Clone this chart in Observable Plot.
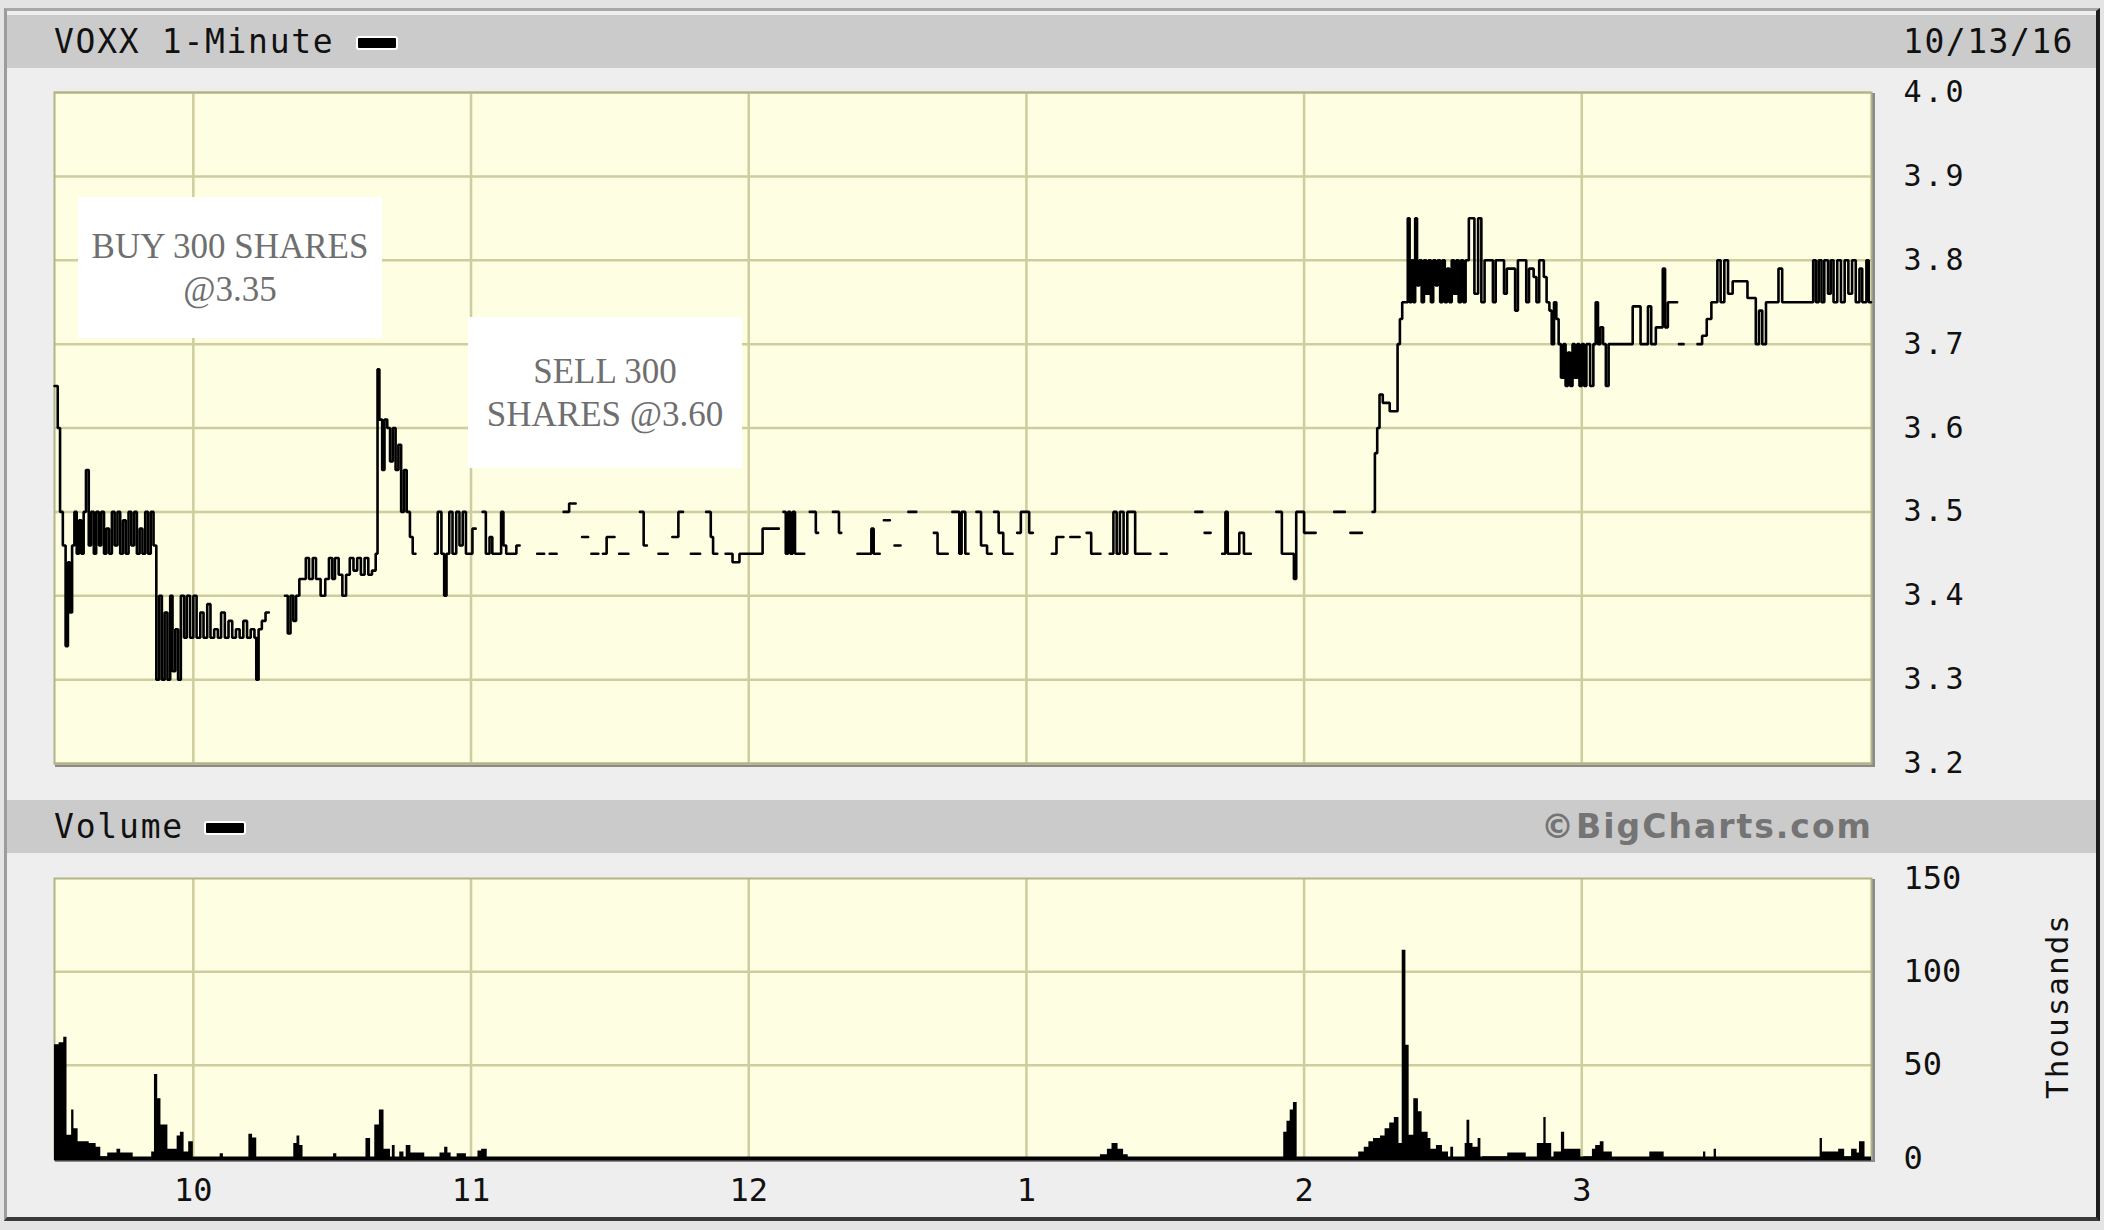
<!DOCTYPE html>
<html><head><meta charset="utf-8">
<script src="https://cdn.jsdelivr.net/npm/d3@7"></script>
<script src="https://cdn.jsdelivr.net/npm/@observablehq/plot@0.6"></script>
<style>
html,body{margin:0;padding:0;background:#e4e4e4;}
#page{position:relative;width:2104px;height:1230px;overflow:hidden;background:#e4e4e4;}
#panel{position:absolute;left:4px;top:8px;width:2089px;height:1206px;background:#eeeeee;border-left:3px solid #9c9c9c;border-top:3px solid #a8a8a8;border-right:4px solid #1e1e1e;border-bottom:4px solid #3a3a3a;}
.band{position:absolute;left:7px;width:2089px;height:53px;background:#cbcbcb;}
.mono{position:absolute;font-family:"DejaVu Sans Mono",monospace;font-size:33px;color:#111;line-height:53px;white-space:nowrap;}
.swatch{position:absolute;width:38px;height:10px;background:#000;border:2px solid #fff;border-radius:3px;}
.note{position:absolute;background:#fff;color:#6f6f6f;font-family:"Liberation Serif","Times New Roman",serif;font-size:35px;line-height:43px;text-align:center;display:flex;align-items:center;justify-content:center;}
.plotwrap{position:absolute;left:0;}
</style></head>
<body>
<div id="page">
  <div id="panel"></div>
  <div class="band" style="top:15px"></div>
  <div class="band" style="top:800px"></div>
  <div class="mono" style="left:54px;top:15px;letter-spacing:1.7px">VOXX 1-Minute</div>
  <div class="swatch" style="left:356px;top:36px"></div>
  <div class="mono" style="right:30px;top:15px;letter-spacing:1.5px">10/13/16</div>
  <div class="mono" style="left:54px;top:800px;letter-spacing:1.8px">Volume</div>
  <div class="swatch" style="left:204px;top:821px"></div>
  <div style="position:absolute;right:231px;top:800px;line-height:53px;font-family:'DejaVu Sans',sans-serif;font-weight:bold;font-size:33px;color:#747474;letter-spacing:2px;">©BigCharts.com</div>
  <div id="price" class="plotwrap" style="top:0"></div>
  <div id="volume" class="plotwrap" style="top:853px"></div>
  <div class="note" style="left:78px;top:197px;width:304px;height:141px">BUY 300 SHARES<br>@3.35</div>
  <div class="note" style="left:468px;top:317px;width:274px;height:151px">SELL 300<br>SHARES @3.60</div>
  <div class="mono" style="left:2057px;top:1006px;transform:translate(-50%,-50%) rotate(-90deg);font-size:31px;line-height:34px;letter-spacing:2px">Thousands</div>
</div>
<script>
// ---- axis / tick data ----
const priceTicks = [3.2, 3.3, 3.4, 3.5, 3.6, 3.7, 3.8, 3.9, 4.0];
const volumeTicks = [0, 50, 100, 150];
const volumeGrid = [50, 100];
const hourTicks = [30, 90, 150, 210, 270, 330];           // minutes after 9:30
const hourLabels = ["10", "11", "12", "1", "2", "3"];

// ---- price series: [minute after 9:30, price] ; null = no trade ----
const morningPrice = [
  [0,3.65],[0.7,3.60],[1.2,3.50],[1.8,3.46],[2.4,3.34],[2.9,3.44],[3.3,3.38],[3.8,3.46],[4.3,3.50],[4.8,3.45],
  [5.3,3.49],[5.8,3.45],[6.3,3.50],[6.8,3.55],[7.4,3.46],[7.9,3.50],[8.5,3.45],[9.0,3.50],[9.6,3.46],[10.1,3.50],
  [10.7,3.45],[11.2,3.48],[11.8,3.45],[12.4,3.50],[13.0,3.46],[13.6,3.50],[14.2,3.45],[14.8,3.49],[15.4,3.45],[16.0,3.50],
  [16.6,3.46],[17.2,3.50],[17.8,3.45],[18.4,3.48],[19.0,3.45],[19.6,3.50],[20.2,3.45],[20.8,3.50],[21.4,3.46],[22.0,3.30],
  [22.6,3.40],[23.2,3.30],[23.8,3.38],[24.4,3.30],[25.0,3.40],[25.5,3.31],[26.1,3.36],[26.7,3.30],[27.3,3.40],[28.0,3.35],
  [28.6,3.40],[29.3,3.35],[30.0,3.40],[30.7,3.35],[31.5,3.38],[32.2,3.35],[33.0,3.39],[33.7,3.35],[34.5,3.36],[35.3,3.35],
  [36.0,3.38],[36.8,3.35],[37.6,3.37],[38.4,3.35],[39.2,3.36],[40.0,3.35],[40.8,3.37],[41.6,3.35],[42.4,3.36],[43.2,3.35],
  [43.6,3.30],[44.1,3.36],[44.8,3.37],[45.6,3.38],[46.3,null],
  [49.8,3.40],[50.4,3.355],[51.0,3.40],[51.6,3.37],[52.2,3.40],[52.9,3.42],[54.3,3.445],[55.0,3.42],[55.8,3.445],[56.5,3.42],
  [57.5,3.40],[58.5,3.42],[59.3,3.445],[60.0,3.42],[60.6,3.445],[61.4,3.425],[62.2,3.40],[63.0,3.425],[63.8,3.445],[64.6,3.43],
  [65.4,3.445],[66.2,3.425],[67.0,3.445],[67.8,3.425],[68.6,3.43],[69.4,3.45],[69.8,3.67],[70.2,3.61],[70.8,3.55],[71.3,3.61],
  [71.9,3.60],[72.5,3.56],[73.1,3.60],[73.7,3.55],[74.3,3.58],[74.9,3.50],[75.5,3.55],[76.1,3.50],[76.8,3.47],[77.4,3.45],[78.0,null],
  [82.2,3.45],[82.8,3.50],[83.6,3.45],[84.2,3.40],[84.7,3.45],[85.3,3.50],[86.0,3.45],[86.8,3.50],[87.5,3.46],[88.2,3.50],
  [88.9,3.45],[89.6,3.45],[90.3,3.48],[91.0,null],[92.5,3.50],[93.2,3.45],[94.0,3.47],[94.6,3.45],[95.4,3.45],[96.5,3.50],
  [97.0,3.46],[97.6,3.45],[99.8,3.46],[100.5,null]
];
const middayPrice = [
  [104.3,3.45],[105.8,null],[107.0,3.45],[108.5,null],[110.0,3.50],[111.2,3.51],[112.6,null],[114.0,3.47],[115.3,null],
  [116.0,3.45],[117.5,null],[118.5,3.45],[119.3,3.47],[121.0,null],[122.0,3.45],[124.0,null],[126.5,3.50],[127.3,3.46],[128.0,null],
  [130.5,3.45],[132.5,null],[133.5,3.47],[134.8,3.50],[135.8,null],[137.5,3.45],[139.5,null],
  [140.8,3.50],[141.8,3.47],[142.3,3.45],[143.2,null],[145.0,3.45],[146.5,3.44],[148.0,3.45],[153.0,3.48],[154.5,3.48],[156.5,null],
  [157.5,3.50],[158.0,3.45],[158.5,3.50],[159.0,3.45],[159.5,3.50],[160.0,3.45],[162.0,null],[163.2,3.50],[164.5,3.475],[165.0,null],
  [168.2,3.50],[169.5,3.475],[170.0,null],[173.5,3.45],[176.5,3.48],[177.0,3.45],[178.3,null],[179.2,3.49],[180.5,null],
  [181.5,3.46],[182.8,null],[184.5,3.50],[186.2,null],[190.0,3.475],[190.8,3.45],[193.0,null],[194.0,3.50],[195.5,3.45],
  [196.0,3.50],[196.8,3.45],[197.5,null],[199.2,3.50],[200.2,3.46],[201.5,3.45],[202.5,null],[203.0,3.50],[204.0,3.475],
  [205.0,3.45],[207.0,null],[208.0,3.475],[208.8,3.50],[210.6,3.475],[211.4,null],[215.5,3.45],[216.5,3.47],[218.0,null],
  [219.5,3.47],[221.5,null],[223.0,3.475],[224.0,3.45],[226.0,null],[228.0,3.45],[228.8,3.50],[229.5,3.45],[230.2,3.50],
  [231.0,3.45],[231.8,3.50],[233.5,3.45],[236.8,null],[239.0,3.45],[240.3,null],[246.5,3.50],[248.0,null],[248.5,3.475],
  [249.8,null],[252.3,3.45],[253.0,3.50],[253.5,3.45],[256.0,3.475],[257.0,3.45],[258.5,null],[264.0,3.50],[265.2,3.45],
  [267.8,3.42],[268.3,3.50],[270.0,3.475],[272.5,null],[276.5,3.50],[278.8,null],[280.0,3.475],[282.5,null]
];
const afternoonPrice = [
  [284.8,3.50],[285.3,3.57],[285.8,3.60],[286.3,3.64],[287.0,3.63],[288.5,3.62],[290.2,3.70],[290.7,3.73],[291.2,3.75],
  [292.4,3.85],[292.8,3.75],[293.2,3.80],[293.6,3.75],[294.0,3.85],[294.4,3.77],[294.9,3.80],[295.4,3.75],[295.9,3.80],
  [296.4,3.76],[296.9,3.80],[297.4,3.75],[297.9,3.80],[298.4,3.77],[298.9,3.80],[299.4,3.75],[299.9,3.80],[300.4,3.75],
  [300.9,3.79],[301.4,3.75],[301.9,3.80],[302.4,3.76],[302.9,3.80],[303.4,3.75],[303.9,3.80],[304.4,3.75],[304.9,3.80],
  [305.6,3.85],[306.8,3.76],[307.6,3.85],[308.3,3.75],[309.0,3.80],[310.2,3.80],[310.8,3.75],[311.4,3.80],[312.6,3.80],
  [313.2,3.76],[313.8,3.79],[315.0,3.79],[315.6,3.74],[316.2,3.80],[317.5,3.80],[318.0,3.75],[318.6,3.79],[319.6,3.78],
  [320.2,3.75],[320.8,3.80],[321.8,3.78],[322.4,3.75],[323.0,3.74],[323.5,3.70],[324.0,3.75],[324.5,3.73],[325.0,3.70],
  [325.5,3.66],[326.0,3.70],[326.5,3.65],[327.0,3.69],[327.5,3.65],[328.0,3.70],[328.5,3.66],[329.0,3.70],[329.5,3.65],
  [330.0,3.70],[330.5,3.65],[331.0,3.70],[331.8,3.65],[332.5,3.70],[333.0,3.75],[333.5,3.70],[334.0,3.72],[334.6,3.70],
  [335.2,3.65],[335.8,3.70],[341.0,3.745],[342.7,3.70],[344.3,3.745],[345.0,3.70],[346.0,3.72],[347.5,3.79],[348.0,3.72],
  [348.6,3.75],[350.6,null],[351.0,3.70],[352.0,null],[355.0,3.70],[356.0,3.71],[357.0,3.73],[358.0,3.75],[359.3,3.80],
  [360.0,3.75],[360.8,3.80],[361.6,3.76],[362.6,3.775],[365.8,3.755],[367.6,3.70],[368.3,3.74],[369.0,3.70],[369.8,3.75],
  [372.5,3.79],[373.3,3.75],[380.0,3.80],[380.6,3.75],[381.2,3.80],[381.8,3.75],[382.4,3.80],[383.2,3.76],[383.8,3.80],
  [384.4,3.75],[385.2,3.80],[386.0,3.75],[386.8,3.80],[387.6,3.76],[388.4,3.80],[389.2,3.75],[390.0,3.79],[390.6,3.75],
  [391.5,3.80],[392.0,3.75],[392.5,null]
];

// ---- volume series (thousands): [minute after 9:30, volume] ----
const morningVolume = [
  [0,61],[1,62],[2,65],[2.7,12.5],[3.7,26],[4.2,16],[5.1,9],[7.5,8],[9,6],[10,1],[11.5,3],[13.5,5],[14.3,3],[17,0.5],
  [21,3.5],[21.6,45],[22.3,32],[23,18],[24.5,5],[26.5,12],[27.2,14],[28,3.5],[29,9],[30,0.5],[35.8,2.5],[36.5,0.5],
  [42,13],[42.8,11],[43.7,0.5],[51.7,8],[52.4,12],[53,7],[53.7,0.5],[60.3,2.5],[61,0.5],[67.3,10.7],[68.3,0.5],
  [69.2,18],[70.2,26],[71.2,5],[72.6,0.5],[73,7],[73.6,0.5],[74.6,3.5],[75.5,0.5],[76,7],[77,3],[80,0.5],[83.3,3],
  [84.3,6],[85,3],[85.7,0.5],[87,2.5],[89,0.5],[91.5,4],[92.3,5],[93.5,0.5]
];
const middayVolume = [
  [120,0.4],[226,2],[227.5,5],[228.5,8],[229.8,5],[231,2],[232,0.5],[265.6,14],[266.3,20],[267,26],[267.7,30],[268.5,0.5]
];
const afternoonVolume = [
  [281.8,3.5],[283,6],[284,9],[285,10.7],[286.5,12],[287.5,16],[288.5,19],[289.5,22],[290.5,8],[291.2,111.6],[292,60.7],
  [292.7,12.5],[293.7,32],[294.7,25],[295.5,14],[296.8,10.7],[297.4,5],[298.6,7],[299.9,3.5],[301.2,0.5],[301.7,6],
  [302.3,0.5],[304.8,8],[305.2,20.5],[305.8,8],[306.5,6],[307.6,10.7],[308.2,0.5],[308.6,1],[314,3],[318,0.5],[320.4,8],
  [321.8,22],[322.3,8],[323.5,0.5],[324,3.5],[325.6,14],[326.3,5],[329.8,0.5],[330.4,1],[332.3,5],[333,7],[334,9],
  [334.8,3.5],[336.6,0.5],[344.7,3.5],[347.8,0.5],[356.3,3.5],[356.8,0.5],[358.6,5],[359.1,0.5],[381.5,10.7],[382,3.5],
  [385.5,5],[386.8,1],[388.3,5],[389.5,3],[390,9],[390.8,9],[391.2,0.5]
];

// ---- build tables ----
const priceRaw = [...morningPrice, ...middayPrice, ...afternoonPrice];
const priceRows = [];
priceRaw.forEach(([m, p], i) => {
  priceRows.push({m, p});
  const next = priceRaw[i + 1];
  if (p != null && next && next[1] == null) priceRows.push({m: next[0], p});
});
const volumeRows = [...morningVolume, ...middayVolume, ...afternoonVolume].map(([m, v]) => ({m, v}));

const W = 2104;
const xDomain = [0, 392.6];
const bg = "#fefee3";
const gridColor = "#cdcd9e";
const axisFont = {fontFamily: "'DejaVu Sans Mono', monospace", fontSize: "30px", color: "#111", background: "transparent", overflow: "visible"};
const hourFormat = d => hourLabels[hourTicks.indexOf(d)];

const price = Plot.plot({
  width: W, height: 800,
  marginLeft: 54, marginRight: W - 1871, marginTop: 92, marginBottom: 37,
  style: {...axisFont, letterSpacing: "3px"},
  x: {domain: xDomain, axis: null},
  y: {domain: [3.2, 4.0], axis: null},
  marks: [
    Plot.frame({stroke: "#8a8a8a", strokeWidth: 3, dx: 2, dy: 2}),
    Plot.frame({fill: bg, stroke: null}),
    Plot.gridX(hourTicks, {stroke: gridColor, strokeOpacity: 1, strokeWidth: 2.5}),
    Plot.gridY(priceTicks, {stroke: gridColor, strokeOpacity: 1, strokeWidth: 2.5}),
    Plot.frame({stroke: "#b3b388", strokeWidth: 2}),
    Plot.axisY(priceTicks, {anchor: "right", tickSize: 0, tickPadding: 32, tickFormat: d3.format(".1f"), label: null}),
    Plot.line(priceRows, {x: "m", y: "p", curve: "step-after", stroke: "#000", strokeWidth: 2.6, strokeLinejoin: "miter"})
  ]
});
document.getElementById("price").appendChild(price);

const volume = Plot.plot({
  width: W, height: 377,
  marginLeft: 54, marginRight: W - 1871, marginTop: 25, marginBottom: 72,
  style: {...axisFont, fontSize: "32px"},
  x: {domain: xDomain, axis: null},
  y: {domain: [0, 150], axis: null},
  marks: [
    Plot.frame({stroke: "#8a8a8a", strokeWidth: 3, dx: 2, dy: 2}),
    Plot.frame({fill: bg, stroke: null}),
    Plot.gridX(hourTicks, {stroke: gridColor, strokeOpacity: 1, strokeWidth: 2.5}),
    Plot.gridY(volumeGrid, {stroke: gridColor, strokeOpacity: 1, strokeWidth: 2.5}),
    Plot.frame({stroke: "#b3b388", strokeWidth: 2}),
    Plot.axisY(volumeTicks, {anchor: "right", tickSize: 0, tickPadding: 32, label: null}),
    Plot.axisX(hourTicks, {anchor: "bottom", tickSize: 0, tickPadding: 20, tickFormat: hourFormat, label: null}),
    Plot.areaY(volumeRows, {x: "m", y: "v", curve: "step-after", fill: "#000"}),
    Plot.ruleY([0], {stroke: "#000", strokeWidth: 4})
  ]
});
document.getElementById("volume").appendChild(volume);
</script>
</body></html>
